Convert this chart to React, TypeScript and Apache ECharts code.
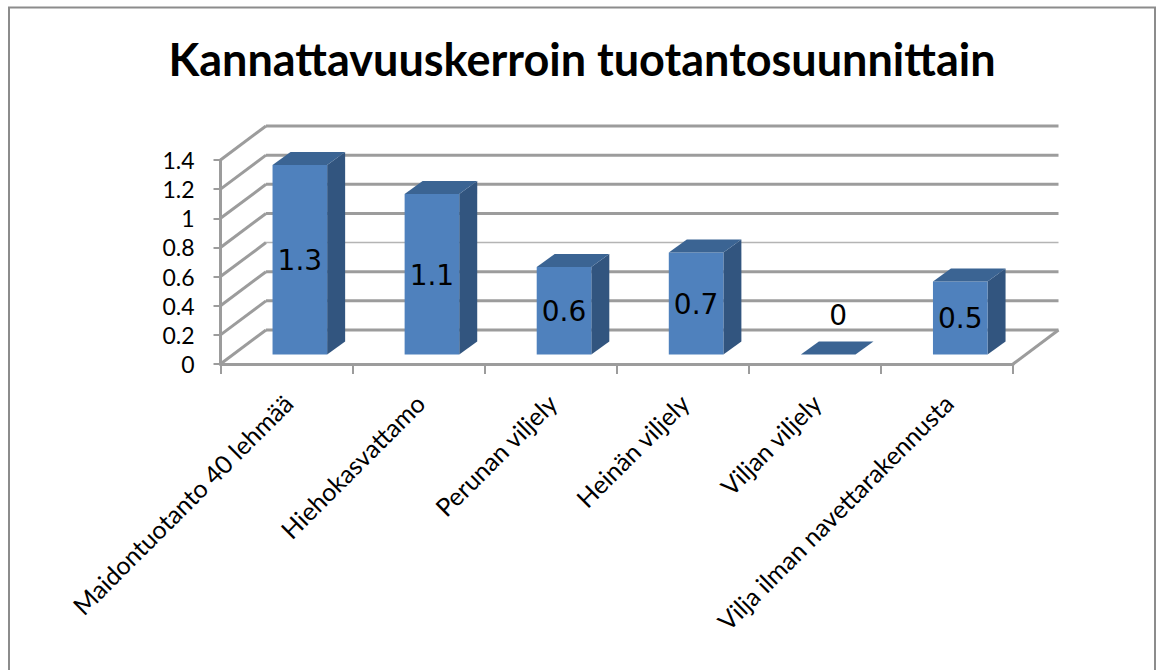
import React, { useEffect, useRef } from "react";
import * as echarts from "echarts";

const titleText = "Kannattavuuskerroin tuotantosuunnittain";
const categories = [
  "Maidontuotanto 40 lehmää",
  "Hiehokasvattamo",
  "Perunan viljely",
  "Heinän viljely",
  "Viljan viljely",
  "Vilja ilman navettarakennusta",
];
const values = [1.3, 1.1, 0.6, 0.7, 0, 0.5];
const gridTicks = [0, 0.2, 0.4, 0.6, 0.8, 1, 1.2, 1.4];

const GRAY = "#9c9c9c";
const WALL_DX = 45.5;
const WALL_DY = -34;
const BAR_SHIFT_X = 13.3;
const BAR_SHIFT_Y = -9.6;
const BAR_WIDTH = 54.6;
const DEPTH_X = 18;
const DEPTH_Y = -13;

function renderWalls(params: any, api: any) {
  const v = api.value(1);
  const y = api.coord([0, v])[1];
  const cs = params.coordSys;
  const left = cs.x;
  const right = cs.x + cs.width;
  const light = v === 0.6;
  const style = { stroke: light ? "#b4b4b4" : GRAY, lineWidth: light ? 1.6 : 3, fill: "none" };
  const side = { stroke: GRAY, lineWidth: 3, fill: "none" };
  const children: any[] = [
    { type: "line", shape: { x1: left, y1: y, x2: left + WALL_DX, y2: y + WALL_DY }, style: side },
    { type: "line", shape: { x1: left + WALL_DX, y1: y + WALL_DY, x2: right + WALL_DX, y2: y + WALL_DY }, style },
  ];
  if (v === 0) {
    children.push({
      type: "line",
      shape: { x1: right, y1: y, x2: right + WALL_DX, y2: y + WALL_DY },
      style: side,
    });
  }
  return { type: "group", children };
}

function renderBar(_params: any, api: any) {
  const i = api.value(0);
  const v = api.value(1);
  const base = api.coord([i, 0]);
  const top = api.coord([i, v]);
  const x0 = base[0] + BAR_SHIFT_X - BAR_WIDTH / 2;
  const x1 = x0 + BAR_WIDTH;
  const y0 = base[1] + BAR_SHIFT_Y;
  const y1 = top[1] + BAR_SHIFT_Y;
  const labelX = v === 0 ? x0 + BAR_WIDTH / 2 + 10 : x0 + BAR_WIDTH / 2;
  const labelY = v === 0 ? y0 - 39 : (y0 + y1) / 2 + 1;
  const children: any[] = [];
  if (v > 0) {
    children.push({
      type: "polygon",
      shape: { points: [[x1, y1], [x1 + DEPTH_X, y1 + DEPTH_Y], [x1 + DEPTH_X, y0 + DEPTH_Y], [x1, y0]] },
      style: { fill: "#32557f" },
    });
    children.push({
      type: "rect",
      shape: { x: x0, y: y1, width: BAR_WIDTH, height: y0 - y1 },
      style: { fill: "#4f81bd" },
    });
  }
  children.push({
    type: "polygon",
    shape: { points: [[x0, y1], [x0 + DEPTH_X, y1 + DEPTH_Y], [x1 + DEPTH_X, y1 + DEPTH_Y], [x1, y1]] },
    style: { fill: "#3b6493" },
  });
  children.push({
    type: "text",
    style: {
      x: labelX,
      y: labelY,
      text: String(v),
      fill: "#000",
      font: '28px "DejaVu Sans"',
      align: "center",
      verticalAlign: "middle",
    },
  });
  return { type: "group", children };
}

export default function App() {
  const ref = useRef<HTMLDivElement>(null);
  useEffect(() => {
    document.body.style.margin = "0";
    const chart = echarts.init(ref.current!, undefined, { renderer: "svg" });
    chart.setOption({
      animation: false,
      backgroundColor: "#fff",
      title: {
        text: titleText,
        left: 577,
        top: 31,
        textAlign: "center",
        textStyle: { fontFamily: "Lato", fontWeight: "bold", fontSize: 45, color: "#000" },
      },
      grid: { left: 220.5, right: 143, top: 160, bottom: 306, containLabel: false },
      xAxis: {
        type: "category",
        data: categories,
        axisLine: { lineStyle: { color: GRAY, width: 3 } },
        axisTick: { show: true, length: 10, lineStyle: { color: GRAY, width: 2 } },
        axisLabel: {
          interval: 0,
          rotate: 45,
          margin: 36,
          padding: [0, -2, 0, 0],
          color: "#000",
          fontFamily: "Lato",
          fontSize: 25,
        },
      },
      yAxis: {
        type: "value",
        min: 0,
        max: 1.4,
        interval: 0.2,
        axisLine: { show: true, lineStyle: { color: GRAY, width: 3 } },
        axisTick: { show: true, length: 7, lineStyle: { color: GRAY, width: 2 } },
        axisLabel: { margin: 26, color: "#000", fontFamily: "Lato", fontSize: 23 },
        splitLine: { show: false },
      },
      graphic: [
        {
          type: "polyline",
          silent: true,
          shape: { points: [[9, 670], [9, 7.5], [1155, 7.5], [1155, 670]] },
          style: { stroke: "#8c8c8c", lineWidth: 2, fill: "none" },
        },
      ],
      series: [
        {
          type: "custom",
          name: "walls",
          data: gridTicks.map((t) => [0, t]),
          renderItem: renderWalls,
          silent: true,
          z: 1,
        },
        {
          type: "custom",
          name: "Kannattavuuskerroin",
          data: values.map((v, i) => [i, v]),
          renderItem: renderBar,
          z: 3,
        },
      ],
    });
    return () => chart.dispose();
  }, []);
  return <div ref={ref} style={{ width: 1156, height: 670 }} />;
}
